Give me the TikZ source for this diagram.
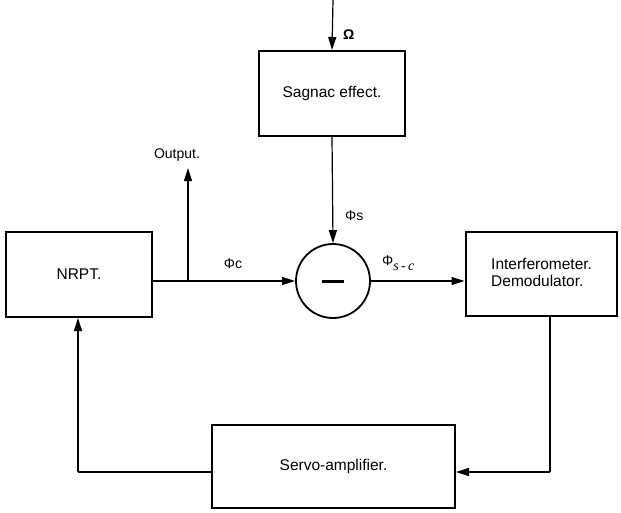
\documentclass[tikz,border=0pt]{standalone}
\usepackage{fontspec}
\setmainfont{Liberation Sans}
\newfontfamily\serifit{Liberation Serif}
\usetikzlibrary{arrows.meta}
\begin{document}
\begin{tikzpicture}[x=1pt,y=-1pt,
  blk/.style={draw,line width=2pt,minimum width=#1,inner sep=0pt},
  conn/.style={line width=1.2pt},
  arr/.style={conn,-{Triangle[length=13pt,width=8pt]}},
  lbl/.style={font=\fontsize{14}{16}\selectfont,inner sep=1pt},
  txt/.style={font=\fontsize{15.5}{18}\selectfont}]
\useasboundingbox (0,0) rectangle (621,512);
\node[blk=146pt,minimum height=85pt,txt] (sag) at (332,93.5) {Sagnac effect.};
\node[blk=146pt,minimum height=85pt,txt] (nrpt) at (79,274.5) {NRPT.};
\node[draw,circle,line width=1.8pt,minimum size=74pt,inner sep=0pt] (sum) at (333,281) {};
\draw[line width=3pt] (322,281) -- (344,281);
\node[blk=151pt,minimum height=84pt] (ifm) at (541,274) {};
\node[txt,align=left,anchor=west,inner sep=0pt] (ifmt) at (491,272) {Interferometer.\\[-1pt]Demodulator.};
\node[blk=243pt,minimum height=83pt,txt] (servo) at (333.5,466.5) {Servo-amplifier.};
\coordinate (top) at (333,0);
\coordinate (br) at (188,281);
\coordinate (outp) at (188,168);
\coordinate (rt) at (550,472);
\coordinate (lt) at (78,472);
\draw[arr] (top) -- (sag.north);
\node[lbl,anchor=west] (om) at (342,35) {\textbf{Ω}};
\draw[arr] (sag.south) -- (sum.north);
\node[lbl,anchor=west] (phs) at (344,216) {Φs};
\draw[arr] (nrpt.east |- sum) -- (sum.west);
\node[lbl] (phc) at (233,264) {Φc};
\draw[arr] (br) -- (outp);
\node[lbl] (out) at (177,155) {Output.};
\draw[arr] (sum.east) -- (ifm.west |- sum);
\node[lbl,anchor=west] (phsc) at (381,263) {Φ\raisebox{-5pt}{\serifit\itshape s\,-\,c}};
\draw[conn] (ifm.south -| rt) -- (rt);
\draw[arr] (rt) -- (servo.east |- rt);
\draw[conn] (servo.west |- lt) -- (lt);
\draw[arr] (lt) -- (lt |- nrpt.south);
\end{tikzpicture}
\end{document}
